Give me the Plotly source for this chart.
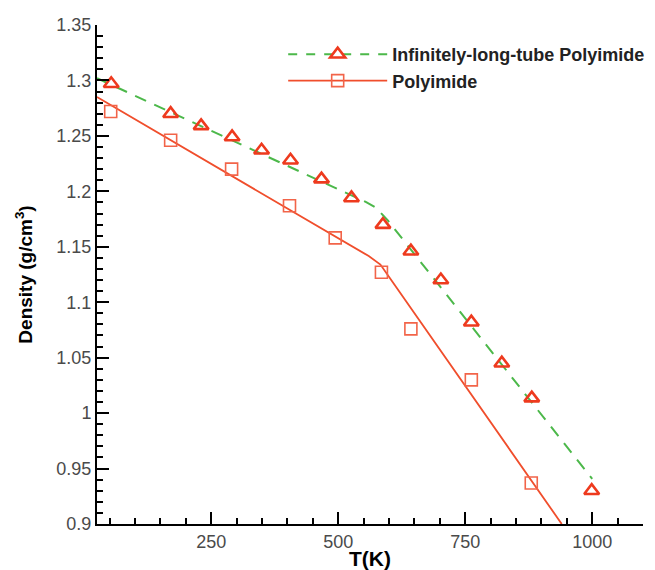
import plotly.graph_objects as go

# Measured densities (markers)
T_tube = [53, 170, 230, 291, 349, 406, 467, 526, 588, 643, 702, 762, 822, 881, 999]
rho_tube = [1.297, 1.270, 1.259, 1.249, 1.237, 1.228, 1.211, 1.194, 1.170, 1.146,
            1.120, 1.082, 1.045, 1.0135, 0.930]

T_poly = [52, 170, 290, 404, 494, 585, 643, 762, 880]
rho_poly = [1.272, 1.246, 1.220, 1.187, 1.158, 1.127, 1.076, 1.030, 0.937]

# Fitted curves (lines)
T_tube_fit = [25, 555, 575, 598, 1000]
rho_tube_fit = [1.302, 1.1903, 1.1850, 1.1735, 0.9407]

T_poly_fit = [25, 560, 583, 606, 940]
rho_poly_fit = [1.285, 1.1416, 1.1340, 1.1190, 0.900]

# Axis ticks
x_ticks = [250, 500, 750, 1000]
x_ticktext = ["250", "500", "750", "1000"]
y_ticks = [0.9, 0.95, 1.0, 1.05, 1.1, 1.15, 1.2, 1.25, 1.3, 1.35]
y_ticktext = ["0.9", "0.95", "1", "1.05", "1.1", "1.15", "1.2", "1.25", "1.3", "1.35"]

names = ["Infinitely-long-tube Polyimide", "Polyimide"]

GREEN = "#4cb84a"
RED_LINE = "#f04e2c"
TRI = "#ee3a1e"
SQ = "#f26449"
FONT = "Liberation Sans"

fig = go.Figure()

fig.add_trace(go.Scatter(
    x=T_tube_fit, y=rho_tube_fit, mode="lines", showlegend=False,
    line=dict(color=GREEN, width=2, dash="12px,9px"),
))
fig.add_trace(go.Scatter(
    x=T_poly_fit, y=rho_poly_fit, mode="lines", showlegend=False,
    line=dict(color=RED_LINE, width=1.8),
))
fig.add_trace(go.Scatter(
    x=T_tube, y=rho_tube, mode="markers", showlegend=False,
    marker=dict(symbol="triangle-up-open", size=13, color=TRI,
                line=dict(color=TRI, width=2.6)),
))
fig.add_trace(go.Scatter(
    x=T_poly, y=rho_poly, mode="markers", showlegend=False,
    marker=dict(symbol="square-open", size=12, color=SQ,
                line=dict(color=SQ, width=1.6)),
))

# Legend entries combining line style and marker
fig.add_trace(go.Scatter(
    x=[None], y=[None], mode="lines+markers", name=names[0],
    line=dict(color=GREEN, width=2, dash="9px,9px"),
    marker=dict(symbol="triangle-up-open", size=13, color=TRI,
                line=dict(color=TRI, width=2.6)),
))
fig.add_trace(go.Scatter(
    x=[None], y=[None], mode="lines+markers", name=names[1],
    line=dict(color=RED_LINE, width=1.8),
    marker=dict(symbol="square-open", size=12, color=SQ,
                line=dict(color=SQ, width=1.6)),
))

axis_common = dict(
    showline=True, linewidth=2, linecolor="black", mirror=False,
    showgrid=False, zeroline=False,
    ticks="inside", ticklen=12, tickwidth=2, tickcolor="black",
    tickfont=dict(family=FONT, size=18, color="#4a4a4a"),
)

fig.update_xaxes(
    **axis_common,
    range=[25, 1100],
    tickmode="array", tickvals=x_ticks, ticktext=x_ticktext,
    minor=dict(ticks="inside", ticklen=6, tickwidth=1.5, tickcolor="black",
               tick0=0, dtick=50),
    title=dict(text="T(K)", standoff=6,
               font=dict(family=FONT, size=21, color="black", weight="bold")),
)
fig.update_yaxes(
    **axis_common,
    range=[0.9, 1.35],
    tickmode="array", tickvals=y_ticks, ticktext=y_ticktext,
    minor=dict(ticks="inside", ticklen=6, tickwidth=1.5, tickcolor="black",
               tick0=0.9, dtick=0.01),
    title=dict(text="Density (g/cm<sup>3</sup>)", standoff=19,
               font=dict(family=FONT, size=19, color="black", weight="bold")),
)

fig.update_layout(
    width=655, height=570,
    margin=dict(l=97, r=12, t=25, b=46, autoexpand=False),
    paper_bgcolor="white", plot_bgcolor="white",
    legend=dict(
        x=0.341, y=0.978, xanchor="left", yanchor="top",
        bgcolor="rgba(0,0,0,0)", itemwidth=99,
        font=dict(family=FONT, size=18, color="#222222", weight="bold"),
        tracegroupgap=0,
    ),
)

fig.write_html("out.html")
